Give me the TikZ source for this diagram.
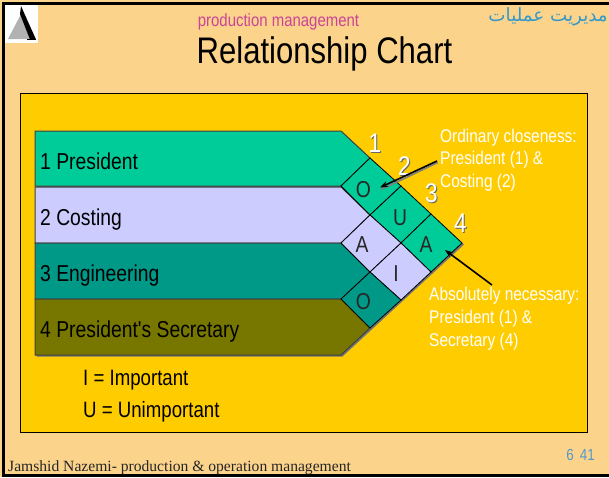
\documentclass[tikz,border=0pt]{standalone}
\usepackage{fontspec}
\usetikzlibrary{arrows.meta}
\setmainfont{Liberation Sans}
\newfontfamily\narrowf[FakeStretch=0.84]{Liberation Sans}
\newfontfamily\footf{Liberation Serif}
\newfontfamily\arabicfont[Script=Arabic]{DejaVu Sans}
\TeXXeTstate=1
\definecolor{pagebg}{HTML}{FBD38A}
\definecolor{panel}{HTML}{FFCC00}
\definecolor{rowgreen}{HTML}{00CC99}
\definecolor{rowlav}{HTML}{CCCCFF}
\definecolor{rowteal}{HTML}{009988}
\definecolor{rowolive}{HTML}{777700}
\definecolor{pinkt}{HTML}{CC4499}
\definecolor{bluet}{HTML}{3399CC}
\definecolor{numblue}{HTML}{5599CC}
\tikzset{
  x=1pt,y=-1pt,
  rowshape/.style={draw=black!75,line width=1pt},
  cell/.style={draw=black,line width=0.8pt},
  rowlabel/.style={anchor=base west,inner sep=0pt,font=\narrowf\fontsize{23}{23}\selectfont,text=black},
  celllabel/.style={anchor=base,inner sep=0pt,font=\narrowf\fontsize{23}{23}\selectfont,text=black!85},
  numlabel/.style={anchor=base,inner sep=0pt,font=\narrowf\fontsize{27}{27}\selectfont,text=white},
  numshadow/.style={anchor=base,inner sep=0pt,font=\narrowf\fontsize{27}{27}\selectfont,text=black!60},
  whitelabel/.style={anchor=base west,inner sep=0pt,font=\narrowf\fontsize{18.4}{18.4}\selectfont,text=white},
  keylabel/.style={anchor=base west,inner sep=0pt,font=\narrowf\fontsize{22.2}{22.2}\selectfont,text=black},
  pointer/.style={-{Stealth[length=8pt,width=6pt]},line width=1.6pt,black},
  pointershadow/.style={line width=1.6pt,black!50},
}
\begin{document}
\begin{tikzpicture}
\useasboundingbox (0,0) rectangle (609,477);
\clip (0,0) rectangle (609,477);
% page
\fill[pagebg] (0,0) rectangle (609,477);
\draw[black,line width=3pt] (2,3) -- (609,3);
\draw[black,line width=3pt] (3,3) -- (3,475.5) -- (609,475.5);
% logo
\fill[white] (5,5) rectangle (37.5,43);
\fill[black!30] (21,14) -- (8,39) -- (30,39) -- cycle;
\fill[black] (21,6) -- (36,39.5) -- (30,39.5) -- (20,14) -- cycle;
\fill[black] (27,38.5) rectangle (36,40);
% titles
\node[anchor=base,inner sep=0pt,text=pinkt,font=\narrowf\fontsize{17.8}{17.8}\selectfont] (sub) at (278.5,26) {production management};
\node[anchor=base,inner sep=0pt,text=black,font=\narrowf\fontsize{37}{37}\selectfont] (title) at (324.5,63) {Relationship Chart};
\node[anchor=base east,inner sep=0pt,text=bluet,font=\arabicfont\fontsize{18.3}{18.3}\selectfont] (arab) at (608,21) {\beginR مديريت عمليات\endR};
% panel
\draw[black,fill=panel,line width=0.8pt] (20,93) rectangle (587,432);
% shadow
\fill[black!55] (36.5,132.5) -- (342.5,132.5) -- (464,244.5) -- (342.5,356.5) -- (36.5,356.5) -- cycle;
% rows
\draw[rowshape,fill=rowgreen] (35,131) -- (341,131) -- (370,158) -- (341,186) -- (35,186) -- cycle;
\draw[rowshape,fill=rowlav] (35,187) -- (341,187) -- (370,215) -- (341,243) -- (35,243) -- cycle;
\draw[rowshape,fill=rowteal] (35,243) -- (341,243) -- (370,272) -- (341,299) -- (35,299) -- cycle;
\draw[rowshape,fill=rowolive] (35,299) -- (341,299) -- (370,328) -- (341,355) -- (35,355) -- cycle;
\node[rowlabel] (r1) at (40,169) {1 President};
\node[rowlabel] (r2) at (40,225) {2 Costing};
\node[rowlabel] (r3) at (40,281) {3 Engineering};
\node[rowlabel] (r4) at (40,337) {4 President's Secretary};
% cells
\draw[cell,fill=rowgreen] (341,186) -- (370,158) -- (401,186) -- (370,215) -- cycle;
\draw[cell,fill=rowgreen] (370,215) -- (401,186) -- (431,214) -- (401,243) -- cycle;
\draw[cell,fill=rowgreen] (401,243) -- (431,214) -- (462,243) -- (431,272) -- cycle;
\draw[cell,fill=rowlav] (341,243) -- (370,215) -- (401,243) -- (370,272) -- cycle;
\draw[cell,fill=rowlav] (370,272) -- (401,243) -- (431,272) -- (401,300) -- cycle;
\draw[cell,fill=rowteal] (341,299) -- (370,272) -- (401,300) -- (370,328) -- cycle;
\node[celllabel] (c12) at (363.5,197) {O};
\node[celllabel] (c23) at (400,225) {U};
\node[celllabel] (c14) at (426,252.5) {A};
\node[celllabel] (c13) at (362,252.5) {A};
\node[celllabel] (c24) at (396,281) {I};
\node[celllabel] (c34) at (363.5,309) {O};
% numbers
\foreach \n/\px/\py in {1/375/152.5,2/404.5/175.5,3/431.5/202.5,4/460.5/232}{
  \node[numshadow] at (\px+1,\py+1) {\n};
  \node[numlabel] (n\n) at (\px,\py) {\n};
}
% white labels
\node[whitelabel] (o1) at (440,142) {Ordinary closeness:};
\node[whitelabel] (o2) at (440,164.5) {President (1) \&};
\node[whitelabel] (o3) at (440,187) {Costing (2)};
\node[whitelabel] (a1) at (429,300) {Absolutely necessary:};
\node[whitelabel] (a2) at (429,323) {President (1) \&};
\node[whitelabel] (a3) at (429,346) {Secretary (4)};
% pointers
\coordinate (p1s) at (437,161);
\coordinate (p1e) at (380,187.5);
\coordinate (p2s) at (492,285);
\coordinate (p2e) at (445,250);
\draw[pointershadow] (p1s) ++(0.8,1.5) -- ([shift={(1,2)}]p1e);
\draw[pointer] (p1s) -- (p1e);
\draw[pointer] (p2s) -- (p2e);
% key
\node[keylabel] (k1) at (83,385.5) {I = Important};
\node[keylabel] (k2) at (83,417.5) {U = Unimportant};
% footer
\node[anchor=base east,inner sep=0pt,text=numblue,font=\narrowf\fontsize{16}{16}\selectfont] (pg) at (595,460) {6\hspace{6pt}41};
\node[anchor=base west,inner sep=0pt,text=black!85,font=\footf\fontsize{15.6}{15.6}\selectfont] (foot) at (8,471) {Jamshid Nazemi- production \& operation management};
\end{tikzpicture}
\end{document}
